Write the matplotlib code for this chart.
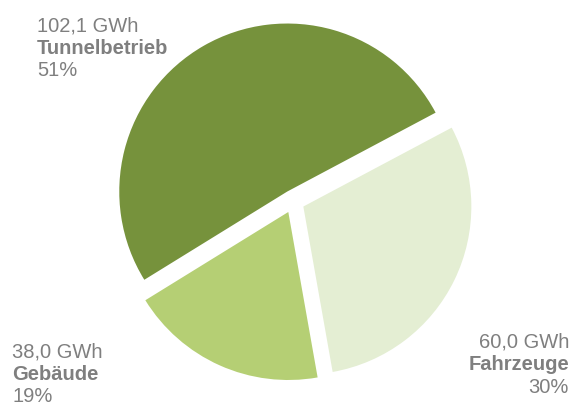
import matplotlib.pyplot as plt

labels = ['Tunnelbetrieb', 'Gebäude', 'Fahrzeuge']
values = [102.1, 38.0, 60.0]
energy_text = ['102,1 GWh', '38,0 GWh', '60,0 GWh']
percent_text = ['51%', '19%', '30%']
colors = ['#76923c', '#b5cf74', '#e4eed3']

W, H = 574, 406
fig = plt.figure(figsize=(W / 100, H / 100), dpi=100)
ax = fig.add_axes([0, 0, 1, 1])

R = 168
ax.pie(values, colors=colors, startangle=28, counterclock=True,
       radius=R, center=(293, H - 202.5), explode=[11.5] * 3,
       wedgeprops={'linewidth': 0})
ax.set_xlim(0, W)
ax.set_ylim(0, H)
ax.set_aspect('equal')
ax.axis('off')

grey = '#7f7f7f'
font = 'Liberation Sans'
fs = 14.5

# label blocks: (x, baselines from top, alignment)
blocks = [
    (37, [31.5, 53.5, 75.5], 'left'),
    (12, [358, 380.5, 402.5], 'left'),
    (569, [348, 370, 393], 'right'),
]
for i, (x, ys, ha) in enumerate(blocks):
    lines = [energy_text[i], labels[i], percent_text[i]]
    for j, (txt, y) in enumerate(zip(lines, ys)):
        ax.text(x, H - y, txt, ha=ha, va='baseline', color=grey,
                fontsize=fs, family=font,
                fontweight='bold' if j == 1 else 'normal')

fig.savefig('out.png', dpi=100)
